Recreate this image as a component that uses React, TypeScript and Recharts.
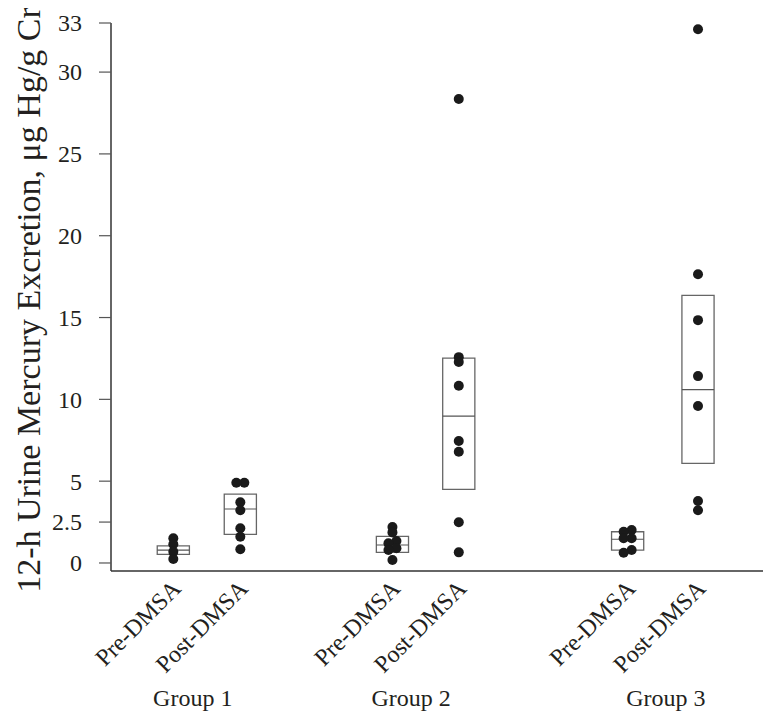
import React from "react";
import {
  ScatterChart,
  Scatter,
  XAxis,
  YAxis,
  ReferenceArea,
  ReferenceLine,
  Label,
} from "recharts";

// ---- data ----
const categories = ["Pre-DMSA", "Post-DMSA", "Pre-DMSA", "Post-DMSA", "Pre-DMSA", "Post-DMSA"];
const groups = ["Group 1", "Group 2", "Group 3"];
const yTicks = [0, 2.5, 5, 10, 15, 20, 25, 30, 33];

const g1Pre = [1.51, 1.14, 0.68, 0.24];
const g1Post = [4.9, 4.9, 3.71, 3.22, 2.12, 1.6, 0.84];
const g2Pre = [2.2, 1.87, 1.34, 1.2, 0.9, 0.79, 0.18];
const g2Post = [28.36, 12.58, 12.28, 10.83, 7.45, 6.8, 2.49, 0.65];
const g3Pre = [2.02, 1.91, 1.51, 1.51, 0.79, 0.63];
const g3Post = [32.62, 17.65, 14.84, 11.42, 9.59, 3.79, 3.22];

const boxLow = [0.53, 1.75, 0.65, 4.5, 0.79, 6.09];
const boxMid = [0.79, 3.3, 1.1, 8.98, 1.45, 10.6];
const boxHigh = [1.05, 4.21, 1.63, 12.52, 1.91, 16.35];

const seriesValues = [g1Pre, g1Post, g2Pre, g2Post, g3Pre, g3Post];

// ---- layout ----
const SLOT_X = [0.93, 1.93, 4.2, 5.19, 7.71, 8.76];
const GROUP_X = [1.22, 4.48, 8.28];
const X_DOMAIN = [0, 9.73];
const BOX_HALF = 0.24;
const FONT = "'Liberation Serif', 'Times New Roman', serif";
const TEXT = "#231f20";

type Pt = { x: number; y: number; dx: number };

const points: Pt[] = [];
seriesValues.forEach((vals, ci) => {
  const sorted = [...vals].sort((a, b) => b - a);
  let prev: Pt | null = null;
  sorted.forEach((v) => {
    const p: Pt = { x: SLOT_X[ci], y: v, dx: 0 };
    if (prev && prev.dx === 0 && Math.abs(prev.y - v) < 0.2) {
      prev.dx = 4;
      p.dx = -4;
    }
    points.push(p);
    prev = p;
  });
});

const allXTicks = [...SLOT_X, ...GROUP_X].sort((a, b) => a - b);

const Dot = (props: any) => {
  const { cx, cy, payload } = props;
  if (cx == null || cy == null) return null;
  return <circle cx={cx + (payload?.dx || 0)} cy={cy} r={5} fill="#1a1a1a" />;
};

const XTick = (props: any) => {
  const { x, y, payload } = props;
  const ci = SLOT_X.indexOf(payload.value);
  if (ci >= 0) {
    const ax = x + 9;
    const ay = y + 19;
    return (
      <text
        x={ax}
        y={ay}
        textAnchor="end"
        fontFamily={FONT}
        fontSize={24}
        fill={TEXT}
        transform={`rotate(-45, ${ax}, ${ay})`}
      >
        {categories[ci]}
      </text>
    );
  }
  const gi = GROUP_X.indexOf(payload.value);
  if (gi >= 0) {
    return (
      <text x={x} y={y + 135} textAnchor="middle" fontFamily={FONT} fontSize={24} fill={TEXT}>
        {groups[gi]}
      </text>
    );
  }
  return null;
};

const YTick = (props: any) => {
  const { x, y, payload } = props;
  return (
    <g>
      <line x1={x - 12} x2={x} y1={y} y2={y} stroke="#555" strokeWidth={1.2} />
      <text
        x={x - 29}
        y={y}
        dy="0.35em"
        textAnchor="end"
        fontFamily={FONT}
        fontSize={24}
        fill={TEXT}
      >
        {String(payload.value)}
      </text>
    </g>
  );
};

const YLabel = (props: any) => {
  const vb = props.viewBox || {};
  const cx = (vb.x || 0) + 32;
  const cy = (vb.y || 0) + (vb.height || 0) / 2 + 3;
  return (
    <text
      x={cx}
      y={cy}
      textAnchor="middle"
      fontFamily={FONT}
      fontSize={34}
      fill={TEXT}
      transform={`rotate(-90, ${cx}, ${cy})`}
    >
      12-h Urine Mercury Excretion, μg Hg/g Cr
    </text>
  );
};

export default function App() {
  return (
    <ScatterChart
      width={767}
      height={718}
      margin={{ top: 15, right: 12, bottom: 0, left: 0 }}
    >
      <XAxis
        type="number"
        dataKey="x"
        domain={X_DOMAIN}
        ticks={allXTicks}
        interval={0}
        allowDataOverflow
        height={155}
        tickSize={0}
        tickMargin={0}
        tickLine={false}
        axisLine={{ stroke: "#333", strokeWidth: 1.5 }}
        tick={<XTick />}
      />
      <YAxis
        type="number"
        dataKey="y"
        domain={[-0.49, 33]}
        ticks={yTicks}
        interval={0}
        allowDataOverflow
        width={103}
        tickSize={0}
        tickMargin={0}
        tickLine={false}
        axisLine={{ stroke: "#333", strokeWidth: 1.5 }}
        tick={<YTick />}
      >
        <Label content={<YLabel />} />
      </YAxis>
      {SLOT_X.map((sx, i) => (
        <ReferenceArea
          key={"box" + i}
          x1={sx - BOX_HALF}
          x2={sx + BOX_HALF}
          y1={boxLow[i]}
          y2={boxHigh[i]}
          fill="none"
          fillOpacity={0}
          stroke="#666"
          strokeWidth={1.3}
        />
      ))}
      {SLOT_X.map((sx, i) => (
        <ReferenceLine
          key={"mid" + i}
          segment={[
            { x: sx - BOX_HALF, y: boxMid[i] },
            { x: sx + BOX_HALF, y: boxMid[i] },
          ]}
          stroke="#555"
          strokeWidth={1.2}
        />
      ))}
      <Scatter data={points} shape={<Dot />} isAnimationActive={false} />
    </ScatterChart>
  );
}
